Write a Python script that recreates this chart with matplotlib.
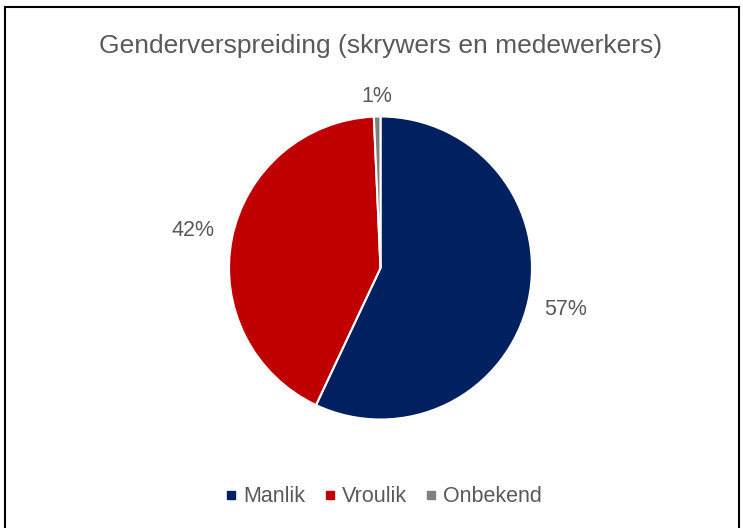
import numpy as np
import matplotlib.pyplot as plt
from matplotlib.patches import Rectangle
from matplotlib.lines import Line2D

plt.rcParams['font.family'] = ['Liberation Sans', 'DejaVu Sans']

# data
categories = ['Manlik', 'Vroulik', 'Onbekend']
values = [57.0, 42.3, 0.7]
labels = ['57%', '42%', '1%']
colors = ['#002060', '#C00000', '#808080']
label_dist = [1.25, 1.26, 1.13]

W, H = 743, 528
fig = plt.figure(figsize=(W / 100, H / 100), dpi=100)

# chart border
fig.patches.append(Rectangle((5 / W, -0.05), 734 / W, 1.05 - 7 / H, transform=fig.transFigure,
                             fill=False, edgecolor='black', linewidth=1.5))

fig.text(0.512, 1 - 46 / H, 'Genderverspreiding (skrywers en medewerkers)',
         ha='center', va='center', fontsize=19, color='#595959')

cx, cy, r = 380.5 / W, 1 - 268 / H, 151.5
ax = fig.add_axes([cx - r / W, cy - r / H, 2 * r / W, 2 * r / H])
wedges, _ = ax.pie(values, colors=colors, startangle=90, counterclock=False, radius=1,
                   wedgeprops=dict(edgecolor='white', linewidth=1.5))
ax.set_xlim(-1, 1)
ax.set_ylim(-1, 1)
ax.set_aspect('equal')
ax.axis('off')

for w, lab, d in zip(wedges, labels, label_dist):
    ang = np.deg2rad((w.theta1 + w.theta2) / 2)
    ax.text(d * np.cos(ang), d * np.sin(ang), lab, ha='center', va='center',
            fontsize=15.5, color='#595959', clip_on=False)

handles = [Line2D([], [], marker='s', linestyle='none', markersize=6, color=c) for c in colors]
fig.legend(handles, categories, loc='center', bbox_to_anchor=(0.516, 1 - 497 / H), ncol=3,
           frameon=False, fontsize=15.5, labelcolor='#595959', handletextpad=0.25,
           columnspacing=0.85, handlelength=0.6)

fig.savefig('out.png', dpi=100)
